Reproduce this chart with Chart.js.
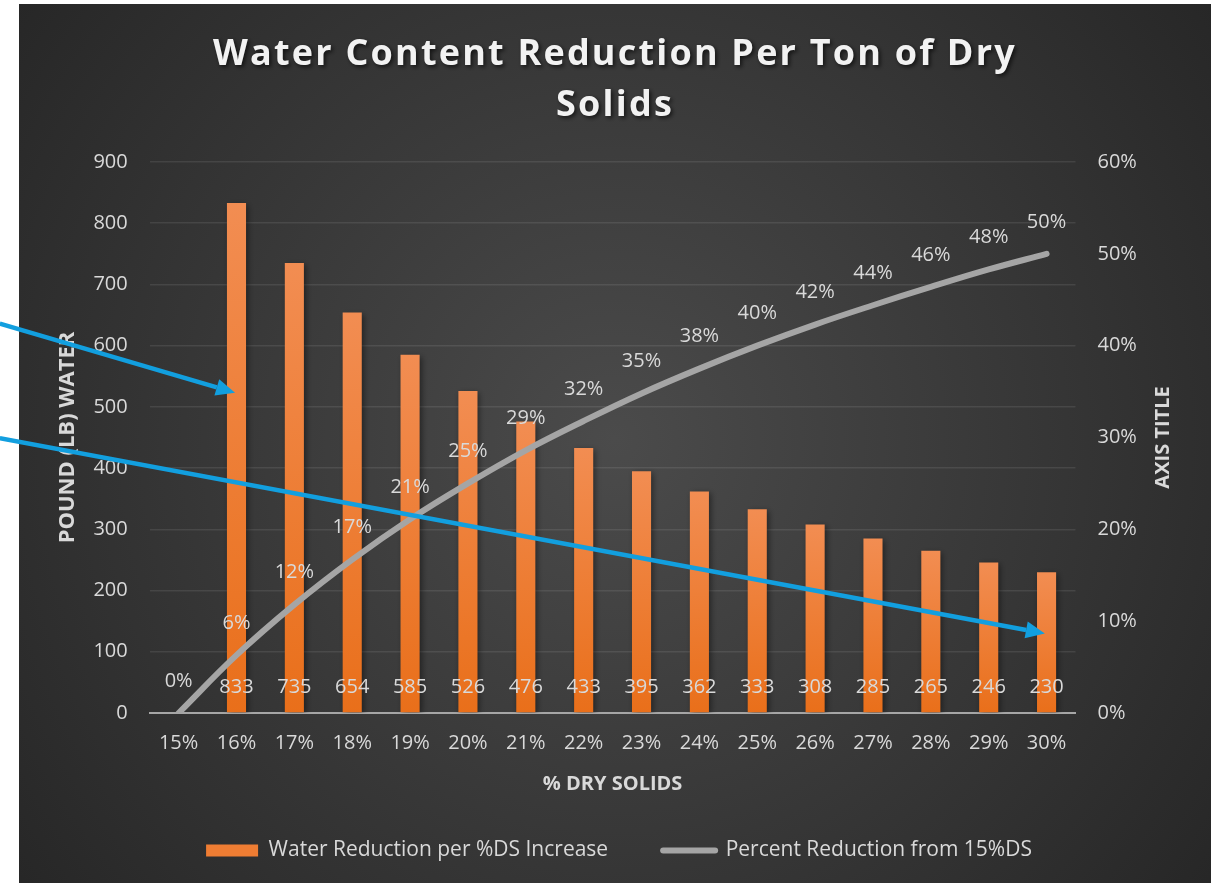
<!DOCTYPE html>
<html><head><meta charset="utf-8">
<script src="https://cdn.jsdelivr.net/npm/chart.js@4.4.1/dist/chart.umd.min.js"></script>
<style>html,body{margin:0;padding:0;background:#fff;}#wrap{position:relative;width:1213px;height:883px;}</style>
</head><body><div id="wrap"><canvas id="c"></canvas></div>
<script>
const categories = ['15%','16%','17%','18%','19%','20%','21%','22%','23%','24%','25%','26%','27%','28%','29%','30%'];
const waterReduction = [null,833,735,654,585,526,476,433,395,362,333,308,285,265,246,230];
const percentReduction = [0,6.3,11.8,16.7,21.1,25,28.6,31.8,34.8,37.5,40,42.3,44.4,46.4,48.3,50];
const leftAxisRange = [0, 900, 100];
const rightAxisRange = [0, 60, 10];
const titleLines = ['Water Content Reduction Per Ton of Dry', 'Solids'];
const seriesNames = ['Water Reduction per %DS Increase', 'Percent Reduction from 15%DS'];
const xAxisTitle = '% DRY SOLIDS';
const leftAxisTitle = 'POUND (LB) WATER';
const rightAxisTitle = 'AXIS TITLE';
// annotation arrows in data units: [category index, left-axis value]
const arrowFrom = [[-3.09, 636], [-3.09, 449]];
const arrowTo = [[0.975, 523], [14.97, 130]];

const FONT = "'Open Sans', sans-serif";
const TXT = '#d9d9d9';

const bgPlugin = {
  id: 'bg',
  beforeDraw(chart) {
    const ctx = chart.ctx;
    ctx.save();
    const g = ctx.createRadialGradient(615, 440, 0, 615, 440, 760);
    g.addColorStop(0, '#4b4b4b');
    g.addColorStop(1, '#262626');
    ctx.fillStyle = g;
    ctx.fillRect(19, 4, 1192, 879);
    // title
    ctx.font = "bold 36px " + FONT;
    try { ctx.letterSpacing = '2.2px'; } catch (e) {}
    ctx.textAlign = 'center';
    ctx.textBaseline = 'middle';
    ctx.shadowColor = 'rgba(0,0,0,0.65)';
    ctx.shadowBlur = 4;
    ctx.shadowOffsetX = 2;
    ctx.shadowOffsetY = 2;
    ctx.fillStyle = '#f2f2f2';
    ctx.fillText(titleLines[0], 615, 55);
    ctx.fillText(titleLines[1], 615, 106);
    ctx.restore();
  },
  beforeDatasetDraw(chart, args) {
    if (args.index === 0) {
      const ctx = chart.ctx;
      ctx.save();
      ctx.shadowColor = 'rgba(0,0,0,0.45)';
      ctx.shadowBlur = 6;
      ctx.shadowOffsetX = 2;
      ctx.shadowOffsetY = 2;
    }
  },
  afterDatasetDraw(chart, args) {
    if (args.index === 0) chart.ctx.restore();
  },
  afterDatasetsDraw(chart) {
    const ctx = chart.ctx;
    ctx.save();
    ctx.font = "20px " + FONT;
    ctx.fillStyle = TXT;
    ctx.textAlign = 'center';
    ctx.textBaseline = 'middle';
    const mb = chart.getDatasetMeta(0);
    mb.data.forEach((el, i) => {
      const v = waterReduction[i];
      if (v == null) return;
      ctx.fillText(String(v), el.x, el.base - 25);
    });
    const ml = chart.getDatasetMeta(1);
    ml.data.forEach((el, i) => {
      ctx.fillText(Math.round(percentReduction[i]) + '%', el.x, el.y - 32);
    });
    // right axis title
    const ca = chart.chartArea;
    ctx.translate(ca.right + 88, (ca.top + ca.bottom) / 2);
    ctx.rotate(-Math.PI / 2);
    ctx.font = "bold 20px " + FONT;
    ctx.fillText(rightAxisTitle, 0, 0);
    ctx.restore();
  },
  afterDraw(chart) {
    const ctx = chart.ctx;
    const xs = chart.scales.x, ys = chart.scales.y;
    ctx.save();
    ctx.strokeStyle = '#129fdf';
    ctx.fillStyle = '#129fdf';
    ctx.lineWidth = 4.5;
    for (let k = 0; k < arrowFrom.length; k++) {
      const x0 = xs.getPixelForValue(arrowFrom[k][0]);
      const y0 = ys.getPixelForValue(arrowFrom[k][1]);
      const x1 = xs.getPixelForValue(arrowTo[k][0]);
      const y1 = ys.getPixelForValue(arrowTo[k][1]);
      const ang = Math.atan2(y1 - y0, x1 - x0);
      const hl = 19, hw = 8.5;
      const bx = x1 - Math.cos(ang) * hl, by = y1 - Math.sin(ang) * hl;
      ctx.beginPath();
      ctx.moveTo(x0, y0);
      ctx.lineTo(bx, by);
      ctx.stroke();
      ctx.beginPath();
      ctx.moveTo(x1, y1);
      ctx.lineTo(bx - Math.sin(ang) * hw, by + Math.cos(ang) * hw);
      ctx.lineTo(bx + Math.sin(ang) * hw, by - Math.cos(ang) * hw);
      ctx.closePath();
      ctx.fill();
    }
    ctx.restore();
  }
};

function barFill(context) {
  if (context.type !== 'data') return '#ef7d33';
  const chart = context.chart;
  const ys = chart.scales.y;
  const v = context.raw;
  if (!ys || v == null) return '#ef7d33';
  const top = ys.getPixelForValue(v), bot = ys.getPixelForValue(0);
  if (!isFinite(top) || !isFinite(bot) || top === bot) return '#ef7d33';
  const g = chart.ctx.createLinearGradient(0, top, 0, bot);
  g.addColorStop(0, '#f28d52');
  g.addColorStop(1, '#e96f1a');
  return g;
}

new Chart(document.getElementById('c'), {
  data: {
    labels: categories,
    datasets: [
      { type: 'bar', label: seriesNames[0], data: waterReduction, yAxisID: 'y',
        backgroundColor: barFill, barPercentage: 0.33, categoryPercentage: 1, order: 2 },
      { type: 'line', label: seriesNames[1], data: percentReduction, yAxisID: 'y1',
        borderColor: '#a5a5a5', borderWidth: 6, borderCapStyle: 'round', tension: 0.4,
        pointRadius: 0, fill: false, order: 1 }
    ]
  },
  options: {
    responsive: true, maintainAspectRatio: false, animation: false, devicePixelRatio: 1,
    layout: { padding: { top: 162, left: 45, right: 20, bottom: 12 } },
    plugins: {
      tooltip: { enabled: false },
      legend: {
        position: 'bottom',
        labels: {
          color: TXT, font: { family: FONT, size: 21 }, padding: 55,
          usePointStyle: true, pointStyleWidth: 52, boxHeight: 12,
          generateLabels: () => [
            { text: seriesNames[0], fillStyle: '#ef7d33', strokeStyle: '#ef7d33', lineWidth: 0, pointStyle: 'rect', datasetIndex: 0, hidden: false, fontColor: TXT },
            { text: seriesNames[1], fillStyle: '#a5a5a5', strokeStyle: '#a5a5a5', lineWidth: 6, lineCap: 'round', pointStyle: 'line', datasetIndex: 1, hidden: false, fontColor: TXT }
          ]
        }
      }
    },
    scales: {
      x: {
        offset: true,
        grid: { display: false, drawTicks: false },
        border: { display: true, color: '#a6a6a6', width: 2 },
        ticks: { color: TXT, font: { family: FONT, size: 20 }, padding: 18, maxRotation: 0 },
        title: { display: true, text: xAxisTitle, color: TXT, font: { family: FONT, size: 20, weight: 'bold' }, padding: { top: 0, bottom: -11 } },
        afterFit: s => { s.height = 72; }
      },
      y: {
        position: 'left', min: leftAxisRange[0], max: leftAxisRange[1],
        ticks: { stepSize: leftAxisRange[2], color: TXT, font: { family: FONT, size: 20 }, padding: 22 },
        grid: { color: 'rgba(255,255,255,0.09)', lineWidth: 1.5, drawTicks: false },
        border: { display: false },
        title: { display: true, text: leftAxisTitle, color: TXT, font: { family: FONT, size: 22, weight: 'bold' }, padding: { top: 10, bottom: 0 } },
        afterFit: s => { s.width = 104.7; }
      },
      y1: {
        position: 'right', min: rightAxisRange[0], max: rightAxisRange[1],
        ticks: { stepSize: rightAxisRange[2], color: TXT, font: { family: FONT, size: 20 }, padding: 22, callback: v => v + '%' },
        grid: { display: false, drawTicks: false },
        border: { display: false },
        afterFit: s => { s.width = 117.5; }
      }
    }
  },
  plugins: [bgPlugin]
});
</script></body></html>
